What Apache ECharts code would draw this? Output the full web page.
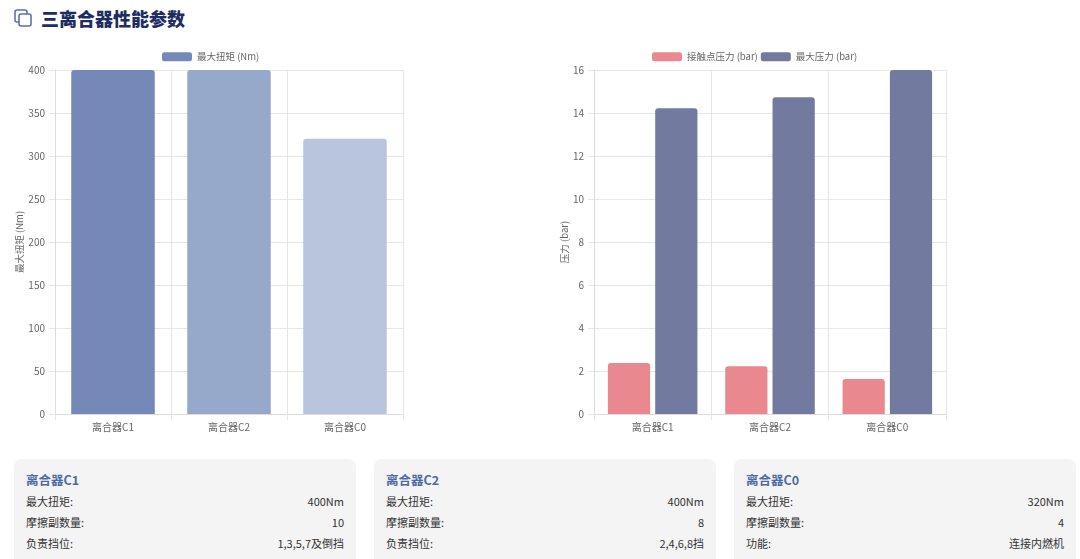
<!DOCTYPE html>
<html>
<head>
<meta charset="utf-8">
<script src="https://cdn.jsdelivr.net/npm/echarts@6/dist/echarts.min.js"></script>
<style>
  body { margin: 0; width: 1080px; height: 559px; overflow: hidden; background: #fff;
         font-family: "Noto Sans CJK SC", "Noto Sans", sans-serif; }
  #chart { position: absolute; left: 0; top: 0; width: 1080px; height: 445px; }
  .title { position: absolute; left: 14px; top: 4px; height: 28px; display: flex; align-items: center;
           font-size: 18px; font-weight: 900; color: #1f2d63; }
  .title svg { margin-right: 8px; }
  .card { position: absolute; top: 459px; width: 342px; height: 110px; background: #f4f4f4;
          border-radius: 8px; box-sizing: border-box; padding: 11px 12px 0 12px; }
  .card h3 { margin: 0 0 1px 0; font-size: 12.5px; color: #4d6aa5; font-weight: bold; line-height: 20px; }
  .row { display: flex; justify-content: space-between; font-size: 11px; color: #333; line-height: 21px; }
</style>
</head>
<body>
<div class="title">
  <svg width="19" height="19" viewBox="0 0 19 19">
    <rect x="1" y="1" width="12" height="12" rx="2" fill="none" stroke="#5a72b0" stroke-width="1.6"/>
    <rect x="5" y="5" width="12" height="12" rx="2" fill="#fff" stroke="#5a72b0" stroke-width="1.6"/>
  </svg>
  三离合器性能参数
</div>
<div id="chart"></div>
<div id="cards"></div>
<script>
const clutches = ['离合器C1', '离合器C2', '离合器C0'];
const maxTorque = [400, 400, 320];
const torqueColors = ['#7489b8', '#97a9ca', '#b9c4dd'];
const contactPressure = [2.37, 2.22, 1.63];
const maxPressure = [14.22, 14.73, 16];
const torqueTicks = { min: 0, max: 400, interval: 50 };
const pressureTicks = { min: 0, max: 16, interval: 2 };

const cardRows = [
  [['最大扭矩:', '400Nm'], ['摩擦副数量:', '10'], ['负责挡位:', '1,3,5,7及倒挡']],
  [['最大扭矩:', '400Nm'], ['摩擦副数量:', '8'], ['负责挡位:', '2,4,6,8挡']],
  [['最大扭矩:', '320Nm'], ['摩擦副数量:', '4'], ['功能:', '连接内燃机']]
];

// info cards
const cardsEl = document.getElementById('cards');
cardRows.forEach((rows, i) => {
  const card = document.createElement('div');
  card.className = 'card';
  card.style.left = (14 + i * 360) + 'px';
  let html = '<h3>' + clutches[i] + '</h3>';
  rows.forEach(r => {
    html += '<div class="row"><span>' + r[0] + '</span><span>' + r[1] + '</span></div>';
  });
  card.innerHTML = html;
  cardsEl.appendChild(card);
});

const gridLine = { lineStyle: { color: '#e6e6e6' } };
const tickLabel = { color: '#666', fontSize: 10 };

function xAxis(idx) {
  return {
    type: 'category', gridIndex: idx, data: clutches,
    axisLine: { lineStyle: { color: '#dcdcdc' } },
    axisTick: { show: true, length: 6, lineStyle: { color: '#e6e6e6' } },
    splitLine: { show: true, ...gridLine },
    axisLabel: { ...tickLabel, margin: 8 }
  };
}
function yAxis(idx, name, ticks) {
  return {
    type: 'value', gridIndex: idx, ...ticks,
    name: name, nameLocation: 'middle', nameGap: idx === 0 ? 30 : 24,
    nameTextStyle: { color: '#666', fontSize: 9.5 },
    axisLine: { show: true, lineStyle: { color: '#dcdcdc' } },
    axisTick: { show: true, length: 6, lineStyle: { color: '#e6e6e6' } },
    splitLine: { show: true, ...gridLine },
    axisLabel: { ...tickLabel, margin: 10 }
  };
}

const chart = echarts.init(document.getElementById('chart'));
chart.setOption({
  animation: false,
  textStyle: { fontFamily: '"Noto Sans CJK SC", "Noto Sans", sans-serif' },
  legend: [
    { data: ['最大扭矩 (Nm)'], top: 47, left: 157, itemWidth: 30, itemHeight: 9, itemGap: 8,
      textStyle: { color: '#666', fontSize: 9.5 }, itemStyle: { color: torqueColors[0] } },
    { data: ['接触点压力 (bar)', '最大压力 (bar)'], top: 47, left: 647, itemWidth: 30, itemHeight: 9, itemGap: 3,
      textStyle: { color: '#666', fontSize: 9.5 } }
  ],
  grid: [
    { left: 55, top: 70, width: 348, height: 344 },
    { left: 594, top: 70, width: 352, height: 344 }
  ],
  xAxis: [xAxis(0), xAxis(1)],
  yAxis: [yAxis(0, '最大扭矩 (Nm)', torqueTicks), yAxis(1, '压力 (bar)', pressureTicks)],
  series: [
    {
      name: '最大扭矩 (Nm)', type: 'bar', xAxisIndex: 0, yAxisIndex: 0, barWidth: '72%',
      data: maxTorque.map((v, i) => ({ value: v, itemStyle: { color: torqueColors[i] } })),
      itemStyle: { borderRadius: [3, 3, 0, 0], color: torqueColors[0] }
    },
    {
      name: '接触点压力 (bar)', type: 'bar', xAxisIndex: 1, yAxisIndex: 1, barWidth: '36%', barGap: '12%',
      data: contactPressure, itemStyle: { color: '#e9888e', borderRadius: [3, 3, 0, 0] }
    },
    {
      name: '最大压力 (bar)', type: 'bar', xAxisIndex: 1, yAxisIndex: 1, barWidth: '36%', barGap: '12%',
      data: maxPressure, itemStyle: { color: '#727b9f', borderRadius: [3, 3, 0, 0] }
    }
  ]
});
</script>
</body>
</html>
